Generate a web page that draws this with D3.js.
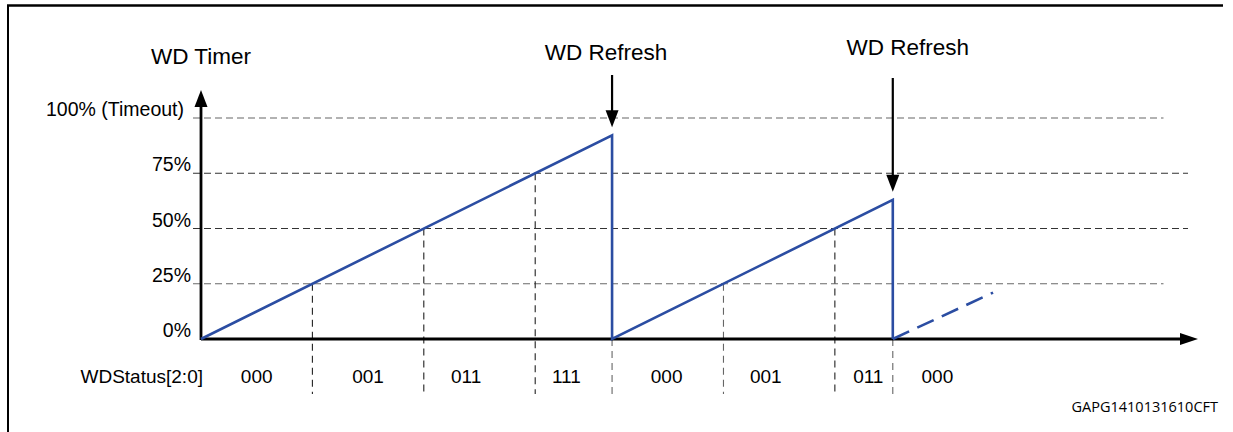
<!DOCTYPE html>
<html><head><meta charset="utf-8">
<script src="https://cdn.jsdelivr.net/npm/d3@7"></script>
<style>
html,body{margin:0;padding:0;background:#fff;}
svg{display:block;}
text{font-family:"Liberation Sans",Arial,sans-serif;fill:#000;}
</style></head><body>
<script>
// ---- data ----
const yTicks = [0, 25, 50, 75, 100];
const yTickLabels = ["0%", "25%", "50%", "75%", "100% (Timeout)"];
// timer trace: [time unit, percent]
const timerTime  = [0, 3.69, 3.69, 6.21, 6.21];
const timerValue = [0, 92.2, 0, 63, 0];
const projTime  = [6.21, 7.11];
const projValue = [0, 21];
const refreshTimes = [3.69, 6.21];
const refreshLabels = ["WD Refresh", "WD Refresh"];
const statusBoundaries = [1, 2, 3, 3.69, 4.69, 5.69, 6.21];
const statusCodes  = ["000", "001", "011", "111", "000", "001", "011", "000"];
const statusLabelAt = [0.50, 1.50, 2.38, 3.28, 4.18, 5.07, 5.99, 6.61];

const W = 1233, H = 432;
const svg = d3.select("body").append("svg").attr("width", W).attr("height", H);

const x = d3.scaleLinear().domain([0, 9]).range([201, 201 + 9 * 111.4]);
const y = d3.scaleLinear().domain([0, 100]).range([339, 118]);
const blue = "#2b4da2";

// frame
svg.append("line").attr("x1", 8).attr("x2", 8).attr("y1", 5).attr("y2", H).attr("stroke", "#000").attr("stroke-width", 2);
svg.append("line").attr("x1", 7).attr("x2", 1223).attr("y1", 5.5).attr("y2", 5.5).attr("stroke", "#000").attr("stroke-width", 2.5);

// horizontal dashed grid
const gridEnds = {25: 8.64, 50: 8.86, 75: 8.86, 100: 8.64};
const gridColor = {25: "#6a6a6a", 50: "#333", 75: "#333", 100: "#666"};
yTicks.filter(v => v > 0).forEach(v => {
  svg.append("line")
    .attr("x1", x(0) - 8).attr("x2", x(gridEnds[v]))
    .attr("y1", y(v)).attr("y2", y(v))
    .attr("stroke", gridColor[v]).attr("stroke-width", 1.1)
    .attr("stroke-dasharray", "7,4");
});

// vertical dashed status separators
const timerAt = t => {
  for (let i = 0; i < timerTime.length - 1; i++) {
    if (t > timerTime[i] && t < timerTime[i + 1]) {
      const f = (t - timerTime[i]) / (timerTime[i + 1] - timerTime[i]);
      return timerValue[i] + f * (timerValue[i + 1] - timerValue[i]);
    }
  }
  return 0;
};
statusBoundaries.forEach(t => {
  const isRefresh = refreshTimes.some(r => Math.abs(r - t) < 1e-6);
  const gray = isRefresh || Math.abs(t - 4.69) < 1e-6;
  svg.append("line")
    .attr("x1", x(t)).attr("x2", x(t))
    .attr("y1", isRefresh ? y(0) : y(timerAt(t))).attr("y2", 394)
    .attr("stroke", gray ? "#666" : "#222").attr("stroke-width", 1.1)
    .attr("stroke-dasharray", "7,5");
});

// axes
svg.append("line").attr("x1", x(0)).attr("x2", x(0)).attr("y1", y(0) + 1).attr("y2", 106)
  .attr("stroke", "#000").attr("stroke-width", 2.8);
svg.append("path").attr("d", `M${x(0)},90 L${x(0) - 6.5},107 L${x(0) + 6.5},107 Z`).attr("fill", "#000");
svg.append("line").attr("x1", x(0)).attr("x2", 1182).attr("y1", y(0)).attr("y2", y(0))
  .attr("stroke", "#000").attr("stroke-width", 2.8);
svg.append("path").attr("d", `M1198,${y(0)} L1180,${y(0) - 6} L1180,${y(0) + 6} Z`).attr("fill", "#000");

// y tick labels
yTicks.forEach((v, i) => {
  svg.append("text").attr("x", v === 100 ? 184 : 191).attr("y", y(v) - 2)
    .attr("text-anchor", "end").attr("font-size", 19.5).text(yTickLabels[i]);
});

// timer trace
const line = d3.line().x(d => x(d[0])).y(d => y(d[1]));
svg.append("path").datum(timerTime.map((t, i) => [t, timerValue[i]]))
  .attr("d", line).attr("fill", "none").attr("stroke", blue).attr("stroke-width", 2.6)
  .attr("stroke-linejoin", "miter");
svg.append("path").datum(projTime.map((t, i) => [t, projValue[i]]))
  .attr("d", line).attr("fill", "none").attr("stroke", blue).attr("stroke-width", 2.6)
  .attr("stroke-dasharray", "18,9");

// refresh arrows
const arrowTop = [75, 78];
const labelBase = [60, 55];
const labelDx = [-6, 15];
refreshTimes.forEach((t, i) => {
  const tip = y(timerValue[timerTime.indexOf(t)]) - 8;
  svg.append("line").attr("x1", x(t)).attr("x2", x(t)).attr("y1", arrowTop[i]).attr("y2", tip - 15)
    .attr("stroke", "#000").attr("stroke-width", 2.2);
  svg.append("path").attr("d", `M${x(t)},${tip} L${x(t) - 6.5},${tip - 17} L${x(t) + 6.5},${tip - 17} Z`).attr("fill", "#000");
  svg.append("text").attr("x", x(t) + labelDx[i]).attr("y", labelBase[i])
    .attr("text-anchor", "middle").attr("font-size", 22.5).text(refreshLabels[i]);
});

// axis title
svg.append("text").attr("x", x(0)).attr("y", 64).attr("text-anchor", "middle")
  .attr("font-size", 22.5).text("WD Timer");

// status labels
svg.append("text").attr("x", 203).attr("y", 383).attr("text-anchor", "end")
  .attr("font-size", 19).text("WDStatus[2:0]");
statusCodes.forEach((c, i) => {
  svg.append("text").attr("x", x(statusLabelAt[i])).attr("y", 383)
    .attr("text-anchor", "middle").attr("font-size", 19).text(c);
});

// figure code
svg.append("text").attr("x", 1218).attr("y", 412).attr("text-anchor", "end")
  .attr("font-size", 14.5).style("font-family", "'Open Sans', sans-serif").text("GAPG1410131610CFT");
</script>
</body></html>
